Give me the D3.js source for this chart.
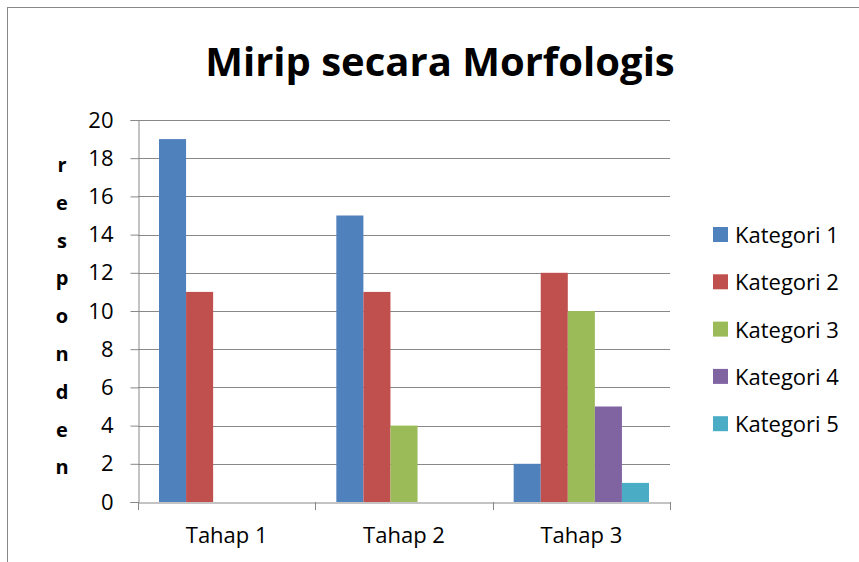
<!DOCTYPE html>
<html>
<head>
<meta charset="utf-8">
<script src="https://cdn.jsdelivr.net/npm/d3@7"></script>
<style>
  body { margin: 0; background: #fff; }
  text { font-family: "Open Sans", "Noto Sans", sans-serif; fill: #000; }
</style>
</head>
<body>
<div id="chart"></div>
<script>
var categories = ["Tahap 1", "Tahap 2", "Tahap 3"];
var seriesNames = ["Kategori 1", "Kategori 2", "Kategori 3", "Kategori 4", "Kategori 5"];
var kategori1 = [19, 15, 2];
var kategori2 = [11, 11, 12];
var kategori3 = [0, 4, 10];
var kategori4 = [0, 0, 5];
var kategori5 = [0, 0, 1];
var yTicks = [0, 2, 4, 6, 8, 10, 12, 14, 16, 18, 20];
var colors = ["#4F81BD", "#C0504D", "#9BBB59", "#8064A2", "#4BACC6"];
var yLetters = ["r", "e", "s", "p", "o", "n", "d", "e", "n"];

var allSeries = [kategori1, kategori2, kategori3, kategori4, kategori5];

var svgWidth = 859;
var svgHeight = 562;

var margin = { top: 120, right: 189, bottom: 60, left: 138 };
var width = svgWidth - margin.left - margin.right;
var height = svgHeight - margin.top - margin.bottom;

var svg = d3.select("#chart")
  .append("svg")
  .attr("width", svgWidth)
  .attr("height", svgHeight);

// outer border (only left and top show in the crop)
svg.append("rect")
  .attr("x", 7.5)
  .attr("y", 7.5)
  .attr("width", 880)
  .attr("height", 600)
  .attr("fill", "none")
  .attr("stroke", "#888")
  .attr("stroke-width", 1);

svg.append("text")
  .attr("x", 440)
  .attr("y", 76)
  .attr("text-anchor", "middle")
  .style("font-size", "40px")
  .style("font-weight", "bold")
  .text("Mirip secara Morfologis");

var chartGroup = svg.append("g")
  .attr("transform", `translate(${margin.left}, ${margin.top})`);

var x0 = d3.scaleBand()
  .domain(categories)
  .range([0, width]);

var x1 = d3.scaleBand()
  .domain(seriesNames)
  .range([21, x0.bandwidth() - 21]);

var y = d3.scaleLinear()
  .domain([0, 20])
  .range([height, 0]);

// gridlines
chartGroup.append("g")
  .selectAll("line")
  .data(yTicks.filter(d => d > 0))
  .enter()
  .append("line")
  .attr("x1", 0)
  .attr("x2", width)
  .attr("y1", d => Math.round(y(d)) + 0.5)
  .attr("y2", d => Math.round(y(d)) + 0.5)
  .attr("stroke", "#888")
  .attr("stroke-width", 1);

// bars
var groups = chartGroup.selectAll(".group")
  .data(categories)
  .enter()
  .append("g")
  .attr("transform", d => `translate(${x0(d)}, 0)`);

groups.selectAll("rect")
  .data((d, i) => seriesNames.map((s, j) => ({ name: s, value: allSeries[j][i], color: colors[j] })))
  .enter()
  .append("rect")
  .attr("x", d => x1(d.name))
  .attr("width", x1.bandwidth())
  .attr("y", d => y(d.value))
  .attr("height", d => height - y(d.value))
  .attr("fill", d => d.color);

// y axis
var leftAxis = d3.axisLeft(y)
  .tickValues(yTicks)
  .tickSize(8)
  .tickPadding(17);

var yAxis = chartGroup.append("g")
  .attr("transform", "translate(0.5, 0)")
  .call(leftAxis);
yAxis.select(".domain").attr("stroke", "#888");
yAxis.selectAll(".tick line").attr("stroke", "#888");
yAxis.selectAll(".tick text")
  .style("font-size", "22px")
  .style("font-family", "'Open Sans', sans-serif")
  .attr("fill", "#000");

// x axis
var bottomAxis = d3.axisBottom(x0)
  .tickSize(0)
  .tickPadding(25);

var xAxis = chartGroup.append("g")
  .attr("transform", `translate(0, ${height + 0.5})`)
  .call(bottomAxis);
xAxis.select(".domain").attr("stroke", "#888");
xAxis.selectAll(".tick text")
  .style("font-size", "22px")
  .style("font-family", "'Open Sans', sans-serif")
  .attr("fill", "#000");

// category separator ticks
chartGroup.append("g")
  .selectAll("line")
  .data([0, 1, 2, 3])
  .enter()
  .append("line")
  .attr("x1", d => Math.round(d * x0.bandwidth()) + 0.5)
  .attr("x2", d => Math.round(d * x0.bandwidth()) + 0.5)
  .attr("y1", height)
  .attr("y2", height + 8)
  .attr("stroke", "#888");

// vertical y label
svg.append("g")
  .selectAll("text")
  .data(yLetters)
  .enter()
  .append("text")
  .attr("x", 62)
  .attr("y", (d, i) => 172 + i * 37.8)
  .attr("text-anchor", "middle")
  .style("font-size", "20px")
  .style("font-weight", "bold")
  .text(d => d);

// legend
var legend = svg.append("g")
  .selectAll("g")
  .data(seriesNames)
  .enter()
  .append("g")
  .attr("transform", (d, i) => `translate(713, ${235 + i * 47.3})`);

legend.append("rect")
  .attr("x", 0)
  .attr("y", -8)
  .attr("width", 15)
  .attr("height", 15)
  .attr("fill", (d, i) => colors[i]);

legend.append("text")
  .attr("x", 22)
  .attr("y", 8)
  .style("font-size", "22px")
  .text(d => d);
</script>
</body>
</html>
